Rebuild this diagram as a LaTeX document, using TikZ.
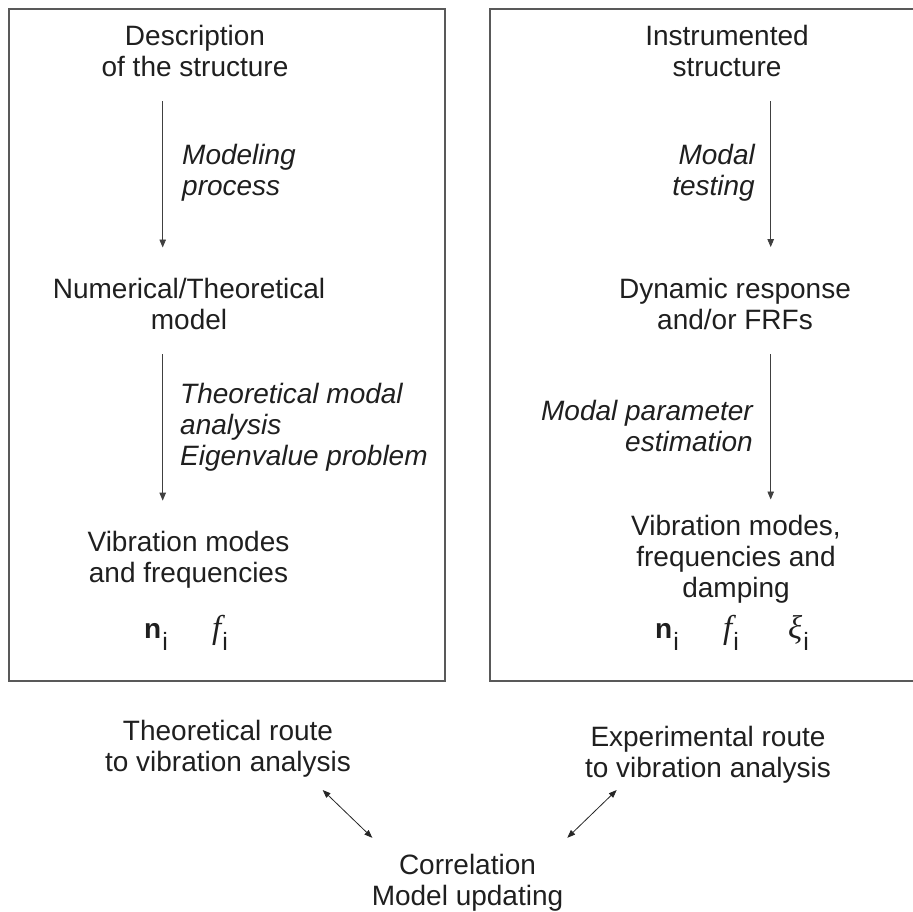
\documentclass[tikz,border=0pt]{standalone}
\usepackage{fontspec}
\setmainfont{Liberation Sans}
\newfontfamily\symfont{Liberation Serif}
\usetikzlibrary{arrows.meta}

\newcommand{\subi}{\hspace{1pt}\raisebox{-12pt}{\fontsize{25}{25}\selectfont i}}
\newcommand{\symbig}[1]{{\fontsize{33}{33}\symfont\itshape #1}}

\begin{document}
\begin{tikzpicture}[x=1pt,y=-1pt,
    every node/.style={inner sep=0pt, text=black!88, font=\fontsize{28}{31}\selectfont},
    label/.style={align=center, anchor=base},
    stepleft/.style={align=left, anchor=base west, font=\fontsize{28}{31}\selectfont\itshape},
    stepright/.style={align=right, anchor=base east, font=\fontsize{28}{31}\selectfont\itshape},
    sym/.style={anchor=base west},
    frame/.style={draw=black!65, line width=1.3pt},
    flow/.style={-{Triangle[length=8pt,width=6.5pt]}, draw=black!75, line width=0.9pt},
    both/.style={{Triangle[length=8pt,width=6pt]}-{Triangle[length=8pt,width=6pt]}, draw=black!85, line width=0.8pt}]
  \clip (0,0) rectangle (913,912);
  % the two routes
  \draw[frame] (9,9) rectangle (445,681);
  \draw[frame] (490,9) rectangle (925,681);

  % theoretical route (base = last line)
  \node[label] (desc) at (195,77) {Description\\of the structure};
  \node[stepleft] (modeling) at (182,196) {Modeling\\process};
  \node[label] (num) at (189,329) {Numerical/Theoretical\\model};
  \node[stepleft] (tma) at (180,465) {Theoretical modal\\analysis\\Eigenvalue problem};
  \node[label] (vibl) at (188.5,582.5) {Vibration modes\\and frequencies};
  \node[sym] (nl) at (144,638) {\textbf{n}\subi};
  \node[sym] (fl) at (212,638) {\symbig{f}\subi};

  % experimental route
  \node[label] (instr) at (727,77) {Instrumented\\structure};
  \node[stepright] (testing) at (755,196) {Modal\\testing};
  \node[label] (dyn) at (735,329) {Dynamic response\\and/or FRFs};
  \node[stepright] (mpe) at (753,451.5) {Modal parameter\\estimation};
  \node[label] (vibr) at (736,597) {Vibration modes,\\frequencies and\\damping};
  \node[sym] (nr) at (655,638) {\textbf{n}\subi};
  \node[sym] (fr) at (723,638) {\symbig{f}\subi};
  \node[sym] (xir) at (788,638) {\symbig{ξ}\subi};

  % below the boxes
  \node[label] (theo) at (228,771) {Theoretical route\\to vibration analysis};
  \node[label] (expe) at (708,777) {Experimental route\\to vibration analysis};
  \node[label] (corr) at (467.5,905) {Correlation\\Model updating};

  \begin{scope}
    \draw[flow, shorten <=23.6pt, shorten >=30pt] (desc.south -| 162.7,0) -- (num.north -| 162.7,0);
    \draw[flow, shorten <=24.7pt, shorten >=30.4pt] (num.south -| 162.7,0) -- (vibl.north -| 162.7,0);
    \draw[flow, shorten <=23.6pt, shorten >=30.4pt] (instr.south -| 770.7,0) -- (dyn.north -| 770.7,0);
    \draw[flow, shorten <=24.6pt, shorten >=15pt] (dyn.south -| 770.7,0) -- (vibr.north -| 770.7,0);
    \draw[both] ([xshift=94.7pt,yshift=-13pt]theo.south) -- ([xshift=-95.2pt,yshift=15.7pt]corr.north);
    \draw[both] ([xshift=-91.3pt,yshift=-7pt]expe.south) -- ([xshift=99.8pt,yshift=15.7pt]corr.north);
  \end{scope}
\end{tikzpicture}
\end{document}
